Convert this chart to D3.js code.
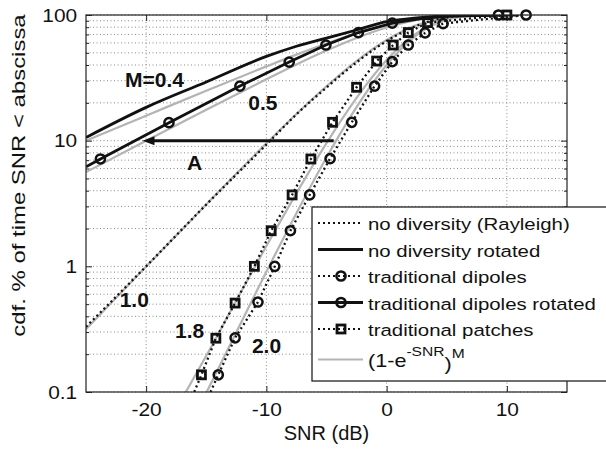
<!DOCTYPE html>
<html>
<head>
<meta charset="utf-8">
<script src="https://cdn.jsdelivr.net/npm/d3@7"></script>
<style>
    body { margin: 0; background: #fff; }
    svg { display: block; font-family: "Liberation Sans", Arial, sans-serif; }
</style>
</head>
<body>
<div class="container"></div>
<script>
var SVG_WIDTH = 606;
var SVG_HEIGHT = 457;
var PLOT = { left: 86, right: 567, top: 15, bottom: 392 };

var X_DOMAIN = [-25, 15];
var Y_DOMAIN = [0.1, 100];
var X_TICKS = [-20, -10, 0, 10];

// [SNR dB, cdf %]
var model04 = [[-25, 10.0], [-20, 15.8], [-15, 25.0], [-10, 39.0], [-7.5, 48.4], [-5, 59.3], [-2.5, 71.4], [0, 83.2], [2.5, 92.9], [5, 98.3], [7.5, 99.85], [10, 100]];
var model05 = [[-25, 5.62], [-20, 9.98], [-15, 17.6], [-10, 30.8], [-7.5, 40.4], [-5, 52.1], [-2.5, 65.6], [0, 79.5], [2.5, 91.2], [5, 97.9], [7.5, 99.8], [10, 100]];
var model10 = [[-25, 0.316], [-20, 0.995], [-15, 3.11], [-10, 9.52], [-7.5, 16.3], [-5, 27.1], [-2.5, 43.0], [0, 63.2], [2.5, 83.1], [5, 95.8], [7.5, 99.6], [10, 100]];
var model18 = [[-16.7, 0.1], [-15, 0.194], [-12.5, 0.535], [-10, 1.45], [-7.5, 3.81], [-5, 9.55], [-2.5, 21.9], [0, 43.8], [2.5, 71.7], [5, 92.5], [7.5, 99.35], [10, 100]];
var model20 = [[-15.1, 0.094], [-12.5, 0.299], [-10, 0.906], [-7.5, 2.65], [-5, 7.35], [-2.5, 18.5], [0, 40.0], [2.5, 69.1], [5, 91.7], [7.5, 99.28], [10, 100]];

var rayleigh = [[-25, 0.33], [-20, 1.0], [-15, 3.1], [-10, 9.3], [-7.5, 16.2], [-5, 26.5], [-2.5, 42], [0, 62], [2.5, 82], [5, 95.5], [7.5, 99.5], [10, 100]];
var rayleighRotated = [[-25, 10.6], [-20, 18.4], [-15, 29.3], [-10, 46.8], [-7.5, 56.4], [-5, 65.5], [-2.5, 76], [0, 88.5], [2.5, 95], [5, 98.5], [7.5, 99.7], [11, 100]];

var dipolesLine = [[-14.65, 0.1], [-14.0, 0.137], [-12.6, 0.27], [-10.7, 0.52], [-9.3, 1.0], [-8.0, 1.92], [-6.4, 3.7], [-4.7, 7.2], [-2.9, 14], [-1.0, 27.2], [0.47, 42.5], [1.8, 57.7], [3.2, 72], [4.7, 85.5], [11.6, 100]];
var dipolesMarks = [[-14.0, 0.137], [-12.6, 0.27], [-10.7, 0.52], [-9.3, 1.0], [-8.0, 1.92], [-6.4, 3.7], [-4.7, 7.2], [-2.9, 14], [-1.0, 27.2], [0.47, 42.5], [1.8, 57.7], [3.2, 72], [4.7, 85.5], [11.6, 100]];

var dipolesRotLine = [[-25, 6.2], [-23.8, 7.15], [-18.1, 13.9], [-12.2, 27.2], [-8.1, 42.2], [-5.05, 57.7], [-2.35, 72.5], [0.47, 86.2], [3, 94], [5, 97.5], [9.3, 100]];
var dipolesRotMarks = [[-23.8, 7.15], [-18.1, 13.9], [-12.2, 27.2], [-8.1, 42.2], [-5.05, 57.7], [-2.35, 72.5], [0.47, 86.2], [9.3, 100]];

var patchesLine = [[-16.0, 0.1], [-15.4, 0.137], [-14.2, 0.268], [-12.6, 0.51], [-11.0, 1.0], [-9.6, 1.92], [-7.86, 3.7], [-6.3, 7.15], [-4.5, 14], [-2.5, 26.6], [-0.83, 43], [0.55, 57.7], [1.8, 72.5], [3.4, 87], [10.0, 100]];
var patchesMarks = [[-15.4, 0.137], [-14.2, 0.268], [-12.6, 0.51], [-11.0, 1.0], [-9.6, 1.92], [-7.86, 3.7], [-6.3, 7.15], [-4.5, 14], [-2.5, 26.6], [-0.83, 43], [0.55, 57.7], [1.8, 72.5], [3.4, 87], [10.0, 100]];

var arrowA = [[-4.4, 10], [-20.3, 10]];

var labelText = ['M=0.4', '0.5', 'A', '1.0', '1.8', '2.0'];
var labelAt = [[-21.75, 26.7], [-11.5, 17.5], [-16.6, 5.85], [-22.2, 0.477], [-17.6, 0.269], [-11.2, 0.204]];

var legendNames = ['no diversity (Rayleigh)', 'no diversity rotated', 'traditional dipoles', 'traditional dipoles rotated', 'traditional patches'];

var DOTTED = '2,3';
var INK = '#111';
var GREY = '#b4b4b4';

var series = [
    { line: rayleigh, marks: [], dash: DOTTED, marker: null },
    { line: rayleighRotated, marks: [], dash: null, marker: null },
    { line: dipolesLine, marks: dipolesMarks, dash: DOTTED, marker: 'circle' },
    { line: dipolesRotLine, marks: dipolesRotMarks, dash: null, marker: 'circle' },
    { line: patchesLine, marks: patchesMarks, dash: DOTTED, marker: 'square' }
];

var x = d3.scaleLinear().domain(X_DOMAIN).range([PLOT.left, PLOT.right]);
var y = d3.scaleLog().domain(Y_DOMAIN).range([PLOT.bottom, PLOT.top]);

var isDecade = function (d) {
    var l = Math.log10(d);
    return Math.abs(l - Math.round(l)) < 1e-6;
};

var svg = d3.select('.container')
    .append('svg')
    .attr('width', SVG_WIDTH)
    .attr('height', SVG_HEIGHT);

svg.append('clipPath')
    .attr('id', 'plot-clip')
    .append('rect')
    .attr('x', PLOT.left)
    .attr('y', PLOT.top)
    .attr('width', PLOT.right - PLOT.left)
    .attr('height', PLOT.bottom - PLOT.top);

// dotted grid
var grid = svg.append('g')
    .attr('stroke', '#8a8a8a')
    .attr('stroke-width', 1)
    .attr('stroke-dasharray', '1,2.5');

grid.selectAll('.gx')
    .data(X_TICKS)
    .enter()
    .append('line')
    .attr('x1', function (d) { return x(d); })
    .attr('x2', function (d) { return x(d); })
    .attr('y1', PLOT.top)
    .attr('y2', PLOT.bottom);

grid.selectAll('.gy')
    .data(y.ticks())
    .enter()
    .append('line')
    .attr('x1', PLOT.left)
    .attr('x2', PLOT.right)
    .attr('y1', function (d) { return y(d); })
    .attr('y2', function (d) { return y(d); });

var plot = svg.append('g').attr('clip-path', 'url(#plot-clip)');

var smooth = d3.line()
    .x(function (d) { return x(d[0]); })
    .y(function (d) { return y(d[1]); })
    .curve(d3.curveMonotoneX);

var straight = d3.line()
    .x(function (d) { return x(d[0]); })
    .y(function (d) { return y(d[1]); });

// (1-e^-SNR)^M curves
plot.selectAll('.model')
    .data([model04, model05, model10, model18, model20])
    .enter()
    .append('path')
    .attr('class', 'model')
    .attr('d', smooth)
    .attr('fill', 'none')
    .attr('stroke', GREY)
    .attr('stroke-width', 2.2);

plot.selectAll('.meas')
    .data(series)
    .enter()
    .append('path')
    .attr('class', 'meas')
    .attr('d', function (d) { return (d.marks.length ? straight : smooth)(d.line); })
    .attr('fill', 'none')
    .attr('stroke', INK)
    .attr('stroke-width', function (d) { return d.dash ? 2.3 : 2.8; })
    .attr('stroke-dasharray', function (d) { return d.dash; });

function drawMarker(g, kind) {
    if (kind === 'circle') {
        g.append('circle')
            .attr('r', 4.6)
            .attr('fill', 'none')
            .attr('stroke', INK)
            .attr('stroke-width', 2.5);
    } else if (kind === 'square') {
        g.append('rect')
            .attr('x', -4)
            .attr('y', -4)
            .attr('width', 8)
            .attr('height', 8)
            .attr('fill', 'none')
            .attr('stroke', INK)
            .attr('stroke-width', 2.8);
    }
}

series.forEach(function (s) {
    svg.append('g')
        .selectAll('g')
        .data(s.marks)
        .enter()
        .append('g')
        .attr('transform', function (d) {
            return 'translate(' + x(d[0]) + ',' + y(d[1]) + ')';
        })
        .each(function () { drawMarker(d3.select(this), s.marker); });
});

// arrow A
var ax0 = x(arrowA[0][0]), ax1 = x(arrowA[1][0]), ay = y(arrowA[0][1]);
svg.append('line')
    .attr('x1', ax0)
    .attr('x2', ax1 + 8)
    .attr('y1', ay)
    .attr('y2', ay)
    .attr('stroke', INK)
    .attr('stroke-width', 3);
svg.append('path')
    .attr('d', 'M' + ax1 + ',' + ay + 'L' + (ax1 + 12) + ',' + (ay - 4.5) + 'L' + (ax1 + 12) + ',' + (ay + 4.5) + 'Z')
    .attr('fill', INK);

// curve labels
svg.selectAll('.curve-label')
    .data(labelText)
    .enter()
    .append('text')
    .attr('class', 'curve-label')
    .attr('x', function (d, i) { return x(labelAt[i][0]); })
    .attr('y', function (d, i) { return y(labelAt[i][1]); })
    .attr('font-size', '21px')
    .attr('font-weight', 'bold')
    .attr('fill', INK)
    .text(function (d) { return d; });

// axes
var plainNumber = function (d) { return String(d); };

var bottomAxis = svg.append('g')
    .attr('transform', 'translate(0,' + PLOT.bottom + ')')
    .call(d3.axisBottom(x).tickValues(X_TICKS).tickSizeInner(-6).tickSizeOuter(0).tickPadding(11).tickFormat(plainNumber));
var topAxis = svg.append('g')
    .attr('transform', 'translate(0,' + PLOT.top + ')')
    .call(d3.axisTop(x).tickValues(X_TICKS).tickSizeInner(-6).tickSizeOuter(0).tickFormat(''));
var leftAxis = svg.append('g')
    .attr('transform', 'translate(' + PLOT.left + ',0)')
    .call(d3.axisLeft(y).tickValues(y.ticks()).tickSizeInner(-3).tickSizeOuter(0).tickPadding(8)
        .tickFormat(function (d) { return isDecade(d) ? plainNumber(+d.toPrecision(1)) : ''; }));
var rightAxis = svg.append('g')
    .attr('transform', 'translate(' + PLOT.right + ',0)')
    .call(d3.axisRight(y).tickValues(y.ticks()).tickSizeInner(-3).tickSizeOuter(0).tickFormat(''));

leftAxis.selectAll('.tick line').attr('x2', function (d) { return isDecade(d) ? 6 : 3; });
rightAxis.selectAll('.tick line').attr('x2', function (d) { return isDecade(d) ? -6 : -3; });

[bottomAxis, topAxis, leftAxis, rightAxis].forEach(function (a) {
    a.select('.domain').remove();
    a.selectAll('.tick line').attr('stroke', '#222').attr('stroke-width', 1);
    a.selectAll('text')
        .attr('font-family', '"Liberation Sans", Arial, sans-serif')
        .attr('font-size', '19px')
        .attr('fill', INK)
        .attr('transform', 'scale(1.1,1)');
});

svg.append('rect')
    .attr('x', PLOT.left)
    .attr('y', PLOT.top)
    .attr('width', PLOT.right - PLOT.left)
    .attr('height', PLOT.bottom - PLOT.top)
    .attr('fill', 'none')
    .attr('stroke', '#222')
    .attr('stroke-width', 1.2);

// axis titles
svg.append('text')
    .attr('x', (PLOT.left + PLOT.right) / 2)
    .attr('y', 440)
    .attr('text-anchor', 'middle')
    .attr('font-size', '20px')
    .attr('fill', INK)
    .text('SNR (dB)');

svg.append('text')
    .attr('transform', 'translate(25,' + ((PLOT.top + PLOT.bottom) / 2 - 28) + ') rotate(-90) scale(1.33,1)')
    .attr('text-anchor', 'middle')
    .attr('font-size', '18px')
    .attr('fill', INK)
    .text('cdf. % of time SNR < abscissa');

// legend
var LEGEND_X = 312, LEGEND_Y = 207, LEGEND_ROW = 26.5, LEGEND_BASE = 230;
var legend = svg.append('g');

legend.append('rect')
    .attr('x', LEGEND_X)
    .attr('y', LEGEND_Y)
    .attr('width', 320)
    .attr('height', 174)
    .attr('fill', '#fff')
    .attr('stroke', '#222')
    .attr('stroke-width', 1.3);

var legendRow = legend.selectAll('.legend-row')
    .data(series)
    .enter()
    .append('g')
    .attr('class', 'legend-row')
    .attr('transform', function (d, i) {
        return 'translate(0,' + (LEGEND_BASE + i * LEGEND_ROW) + ')';
    });

legendRow.append('line')
    .attr('x1', 318)
    .attr('x2', 363)
    .attr('y1', -7)
    .attr('y2', -7)
    .attr('stroke', INK)
    .attr('stroke-width', function (d) { return d.dash ? 2 : 2.8; })
    .attr('stroke-dasharray', function (d) { return d.dash; });

legendRow.append('g')
    .attr('transform', 'translate(341,-7)')
    .each(function (d) { drawMarker(d3.select(this), d.marker); });

legendRow.append('text')
    .attr('transform', 'translate(368,0) scale(1.2,1)')
    .attr('font-size', '17px')
    .attr('fill', INK)
    .text(function (d, i) { return legendNames[i]; });

var modelBase = LEGEND_BASE + 5 * LEGEND_ROW + 4;
legend.append('line')
    .attr('x1', 318)
    .attr('x2', 363)
    .attr('y1', modelBase - 7)
    .attr('y2', modelBase - 7)
    .attr('stroke', GREY)
    .attr('stroke-width', 2.2);

var modelText = legend.append('text')
    .attr('transform', 'translate(368,' + modelBase + ') scale(1.2,1)')
    .attr('font-size', '18px')
    .attr('fill', INK);
modelText.append('tspan').text('(1-e');
modelText.append('tspan').attr('dy', -11).attr('font-size', '13px').text('-SNR');
modelText.append('tspan').attr('dy', 14).text(')');
modelText.append('tspan').attr('dy', -12).attr('font-size', '13px').text('M');
</script>
</body>
</html>
